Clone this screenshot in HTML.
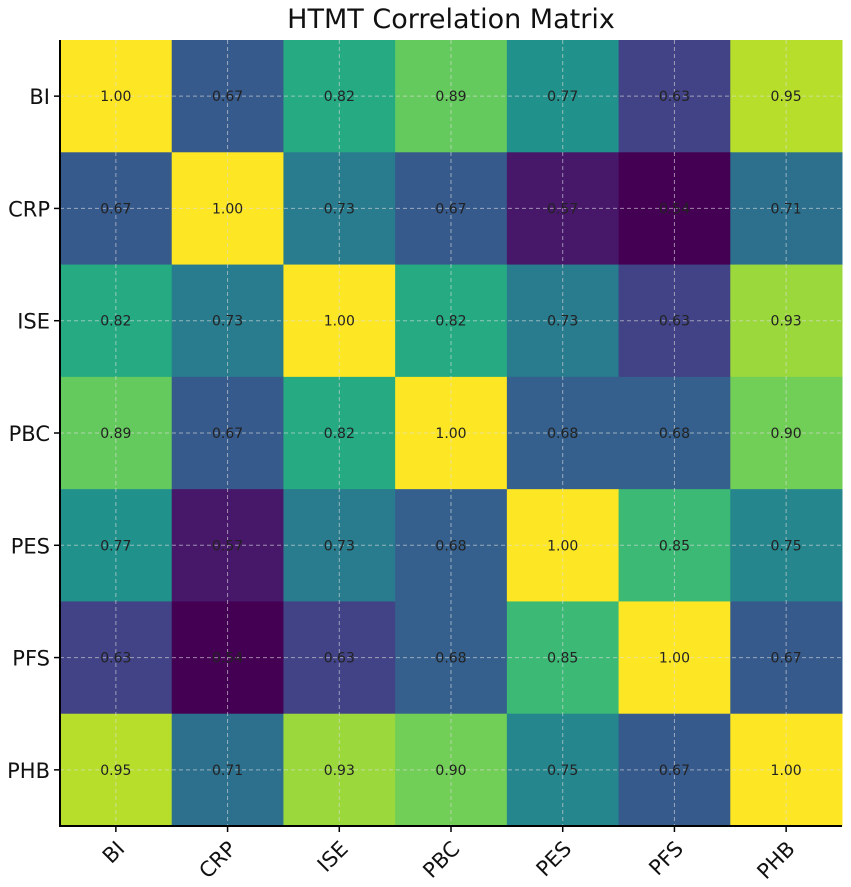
<!DOCTYPE html>
<html><head><meta charset="utf-8"><style>
html,body{margin:0;padding:0;background:#fff;}
svg{display:block;font-family:"DejaVu Sans","Liberation Sans",sans-serif;}
</style></head><body>
<svg id="chart" width="851" height="887" viewBox="0 0 851 887" xmlns="http://www.w3.org/2000/svg">
<text x="451" y="28" font-size="27" text-anchor="middle" fill="#111">HTMT Correlation Matrix</text>
<g id="cells"></g><g id="grid"></g><g id="vals"></g><g id="axes"></g>
</svg>
<script>
const rowLabels = ["BI","CRP","ISE","PBC","PES","PFS","PHB"];
const colLabels = ["BI","CRP","ISE","PBC","PES","PFS","PHB"];
const row0 = [1.00,0.67,0.82,0.89,0.77,0.63,0.95];
const row1 = [0.67,1.00,0.73,0.67,0.57,0.54,0.71];
const row2 = [0.82,0.73,1.00,0.82,0.73,0.63,0.93];
const row3 = [0.89,0.67,0.82,1.00,0.68,0.68,0.90];
const row4 = [0.77,0.57,0.73,0.68,1.00,0.85,0.75];
const row5 = [0.63,0.54,0.63,0.68,0.85,1.00,0.67];
const row6 = [0.95,0.71,0.93,0.90,0.75,0.67,1.00];
const values = [row0,row1,row2,row3,row4,row5,row6];

const L=60,T=40,W=782,H=786;
const cw=W/colLabels.length, ch=H/rowLabels.length;
const xPos=i=>L+i*cw, yPos=j=>T+j*ch;
const all=values.flat(); const vmin=Math.min(...all), vmax=Math.max(...all);
const vir=["#440154","#482475","#414487","#355f8d","#2a788e","#21918c","#22a884","#44bf70","#7ad151","#bddf26","#fde725"];
function hex(h){return [1,3,5].map(k=>parseInt(h.substr(k,2),16));}
function color(v){let t=(v-vmin)/(vmax-vmin||1);t=Math.max(0,Math.min(1,t))*10;const i=Math.min(9,Math.floor(t)),f=t-i;
const a=hex(vir[i]),b=hex(vir[i+1]);return "rgb("+a.map((x,k)=>Math.round(x+(b[k]-x)*f)).join(",")+")";}
const NS="http://www.w3.org/2000/svg";
function mk(tag,attrs,parent){const e=document.createElementNS(NS,tag);for(const k in attrs)e.setAttribute(k,attrs[k]);document.getElementById(parent).appendChild(e);return e;}
values.forEach((r,j)=>r.forEach((v,i)=>{
 const c=mk("rect",{x:xPos(i),y:yPos(j),width:cw+0.5,height:ch+0.5,fill:color(v)},"cells");
 
 
 const t=mk("text",{x:xPos(i)+cw/2,y:yPos(j)+ch/2+5,"font-size":"14","text-anchor":"middle",fill:"#222"},"vals");
 t.textContent=v.toFixed(2);
 
 
}));
for(let i=0;i<colLabels.length;i++){
 const g=mk("line",{x1:xPos(i)+cw/2,x2:xPos(i)+cw/2,y1:T,y2:T+H,stroke:"#ddd","stroke-opacity":"0.6","stroke-dasharray":"4,3","stroke-width":"1"},"grid");
 
 
 mk("line",{x1:xPos(i)+cw/2,x2:xPos(i)+cw/2,y1:T+H,y2:T+H+6,stroke:"#000","stroke-width":"1.5"},"axes");
 const t=mk("text",{transform:`translate(${xPos(i)+cw/2+10},${T+H+24}) rotate(-45)`,"font-size":"21","text-anchor":"end",fill:"#111"},"axes");
 t.textContent=colLabels[i];
 
 
}
for(let j=0;j<rowLabels.length;j++){
 const g=mk("line",{x1:L,x2:L+W,y1:yPos(j)+ch/2,y2:yPos(j)+ch/2,stroke:"#ddd","stroke-opacity":"0.6","stroke-dasharray":"4,3","stroke-width":"1"},"grid");
 
 
 mk("line",{x1:L-6,x2:L,y1:yPos(j)+ch/2,y2:yPos(j)+ch/2,stroke:"#000","stroke-width":"1.5"},"axes");
 const t=mk("text",{x:L-10,y:yPos(j)+ch/2+8,"font-size":"21","text-anchor":"end",fill:"#111"},"axes");
 t.textContent=rowLabels[j];
 
 
}
const ax=mk("path",{d:`M${L},${T} V${T+H} H${L+W}`,fill:"none",stroke:"#000","stroke-width":"2"},"axes");


</script>
</body></html>
